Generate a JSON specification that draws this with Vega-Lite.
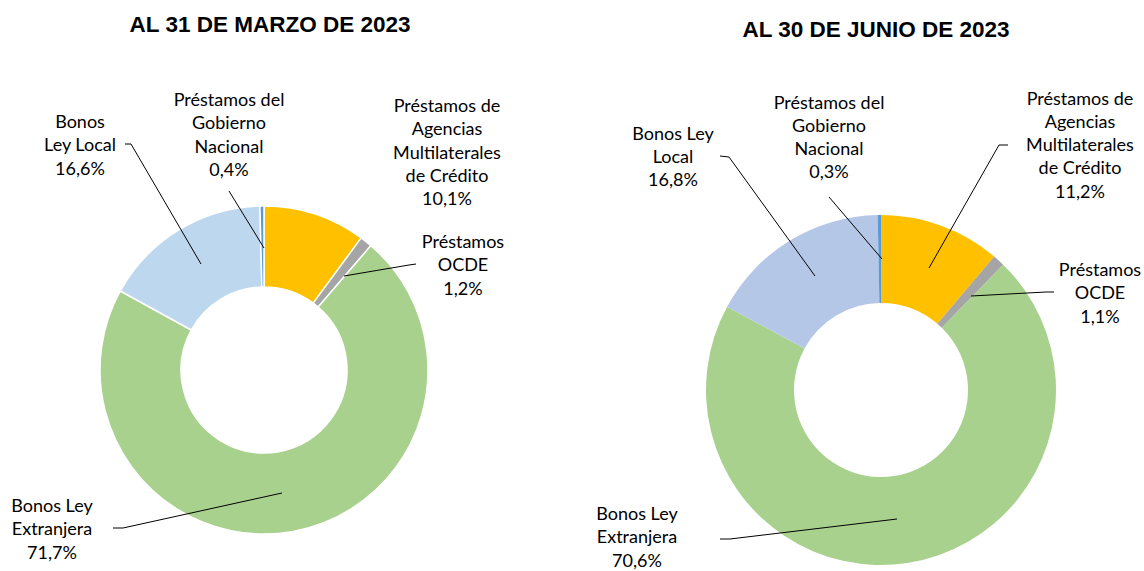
{
  "$schema": "https://vega.github.io/schema/vega-lite/v6.json",
  "width": 1144,
  "height": 571,
  "autosize": {"type": "none"},
  "padding": 0,
  "background": "white",
  "config": {"view": {"stroke": null}},
  "datasets": {
    "marzo": [
      {"cat": "Préstamos de Agencias Multilaterales de Crédito", "pct": 10.1, "ord": 1},
      {"cat": "Préstamos OCDE", "pct": 1.2, "ord": 2},
      {"cat": "Bonos Ley Extranjera", "pct": 71.7, "ord": 3},
      {"cat": "Bonos Ley Local", "pct": 16.6, "ord": 4},
      {"cat": "Préstamos del Gobierno Nacional", "pct": 0.4, "ord": 5}
    ],
    "junio": [
      {"cat": "Préstamos de Agencias Multilaterales de Crédito", "pct": 11.2, "ord": 1},
      {"cat": "Préstamos OCDE", "pct": 1.1, "ord": 2},
      {"cat": "Bonos Ley Extranjera", "pct": 70.6, "ord": 3},
      {"cat": "Bonos Ley Local", "pct": 16.8, "ord": 4},
      {"cat": "Préstamos del Gobierno Nacional", "pct": 0.3, "ord": 5}
    ],
    "labels": [
      {"label": "Bonos\nLey Local\n16,6%", "x": 80, "y": 123},
      {"label": "Préstamos del\nGobierno\nNacional\n0,4%", "x": 229, "y": 101},
      {"label": "Préstamos de\nAgencias\nMultilaterales\nde Crédito\n10,1%", "x": 447, "y": 107},
      {"label": "Préstamos\nOCDE\n1,2%", "x": 463, "y": 243},
      {"label": "Bonos Ley\nExtranjera\n71,7%", "x": 52, "y": 507},
      {"label": "Bonos Ley\nLocal\n16,8%", "x": 673, "y": 134.5},
      {"label": "Préstamos del\nGobierno\nNacional\n0,3%", "x": 829, "y": 103.5},
      {"label": "Préstamos de\nAgencias\nMultilaterales\nde Crédito\n11,2%", "x": 1080, "y": 99.5},
      {"label": "Préstamos\nOCDE\n1,1%", "x": 1100, "y": 271},
      {"label": "Bonos Ley\nExtranjera\n70,6%", "x": 637, "y": 515}
    ],
    "titles": [
      {"t": "AL 31 DE MARZO DE 2023", "x": 270, "y": 25},
      {"t": "AL 30 DE JUNIO DE 2023", "x": 876, "y": 30}
    ],
    "leaders": [
      {"id": "m_local", "seq": 1, "x": 125, "y": 144},
      {"id": "m_local", "seq": 2, "x": 131, "y": 144},
      {"id": "m_local", "seq": 3, "x": 201, "y": 264},
      {"id": "m_gob", "seq": 1, "x": 229, "y": 191},
      {"id": "m_gob", "seq": 2, "x": 264, "y": 248},
      {"id": "m_ocde", "seq": 1, "x": 416, "y": 264},
      {"id": "m_ocde", "seq": 2, "x": 409, "y": 265},
      {"id": "m_ocde", "seq": 3, "x": 344, "y": 276},
      {"id": "m_ext", "seq": 1, "x": 113, "y": 528},
      {"id": "m_ext", "seq": 2, "x": 123, "y": 528},
      {"id": "m_ext", "seq": 3, "x": 282, "y": 493},
      {"id": "j_local", "seq": 1, "x": 720, "y": 156},
      {"id": "j_local", "seq": 2, "x": 729, "y": 157},
      {"id": "j_local", "seq": 3, "x": 815, "y": 276},
      {"id": "j_gob", "seq": 1, "x": 829, "y": 197},
      {"id": "j_gob", "seq": 2, "x": 882, "y": 259},
      {"id": "j_multi", "seq": 1, "x": 1008, "y": 145},
      {"id": "j_multi", "seq": 2, "x": 999, "y": 145},
      {"id": "j_multi", "seq": 3, "x": 929, "y": 268},
      {"id": "j_ocde", "seq": 1, "x": 1054, "y": 292},
      {"id": "j_ocde", "seq": 2, "x": 1046, "y": 292},
      {"id": "j_ocde", "seq": 3, "x": 971, "y": 296},
      {"id": "j_ext", "seq": 1, "x": 720, "y": 539},
      {"id": "j_ext", "seq": 2, "x": 730, "y": 539},
      {"id": "j_ext", "seq": 3, "x": 897, "y": 519}
    ]
  },
  "layer": [
    {
      "data": {"name": "marzo"},
      "mark": {"type": "arc", "outerRadius": 164, "innerRadius": 83, "stroke": "white", "strokeWidth": 1.5},
      "encoding": {
        "x": {"datum": 264, "type": "quantitative", "scale": {"domain": [0, 1144], "nice": false, "zero": false}, "axis": null},
        "y": {"datum": 370, "type": "quantitative", "scale": {"domain": [571, 0], "nice": false, "zero": false}, "axis": null},
        "theta": {"field": "pct", "type": "quantitative", "stack": true},
        "order": {"field": "ord", "type": "quantitative"},
        "color": {
          "field": "cat", "type": "nominal", "legend": null,
          "scale": {
            "domain": ["Préstamos de Agencias Multilaterales de Crédito", "Préstamos OCDE", "Bonos Ley Extranjera", "Bonos Ley Local", "Préstamos del Gobierno Nacional"],
            "range": ["#FFC000", "#A5A5A5", "#A9D18E", "#BDD7EE", "#5B9BD5"]
          }
        }
      }
    },
    {
      "data": {"name": "junio"},
      "mark": {"type": "arc", "outerRadius": 175, "innerRadius": 87},
      "encoding": {
        "x": {"datum": 881, "type": "quantitative", "scale": {"domain": [0, 1144], "nice": false, "zero": false}, "axis": null},
        "y": {"datum": 390, "type": "quantitative", "scale": {"domain": [571, 0], "nice": false, "zero": false}, "axis": null},
        "theta": {"field": "pct", "type": "quantitative", "stack": true},
        "order": {"field": "ord", "type": "quantitative"},
        "color": {
          "field": "cat", "type": "nominal", "legend": null,
          "scale": {
            "domain": ["Préstamos de Agencias Multilaterales de Crédito", "Préstamos OCDE", "Bonos Ley Extranjera", "Bonos Ley Local", "Préstamos del Gobierno Nacional"],
            "range": ["#FFC000", "#A5A5A5", "#A9D18E", "#B4C7E7", "#5B9BD5"]
          }
        }
      }
    },
    {
      "data": {"name": "leaders"},
      "mark": {"type": "line", "color": "black", "strokeWidth": 1},
      "encoding": {
        "x": {"field": "x", "type": "quantitative", "scale": {"domain": [0, 1144], "nice": false, "zero": false}, "axis": null},
        "y": {"field": "y", "type": "quantitative", "scale": {"domain": [571, 0], "nice": false, "zero": false}, "axis": null},
        "detail": {"field": "id", "type": "nominal"},
        "order": {"field": "seq", "type": "quantitative"}
      }
    },
    {
      "data": {"name": "labels"},
      "mark": {"type": "text", "font": "Lato", "fontSize": 18, "lineHeight": 23.3, "lineBreak": "\n", "align": "center", "baseline": "middle", "color": "#000000"},
      "encoding": {
        "x": {"field": "x", "type": "quantitative", "scale": {"domain": [0, 1144], "nice": false, "zero": false}, "axis": null},
        "y": {"field": "y", "type": "quantitative", "scale": {"domain": [571, 0], "nice": false, "zero": false}, "axis": null},
        "text": {"field": "label", "type": "nominal"}
      }
    },
    {
      "data": {"name": "titles"},
      "mark": {"type": "text", "font": "Liberation Sans", "fontWeight": "bold", "fontSize": 22.5, "align": "center", "baseline": "middle", "color": "#000000"},
      "encoding": {
        "x": {"field": "x", "type": "quantitative", "scale": {"domain": [0, 1144], "nice": false, "zero": false}, "axis": null},
        "y": {"field": "y", "type": "quantitative", "scale": {"domain": [571, 0], "nice": false, "zero": false}, "axis": null},
        "text": {"field": "t", "type": "nominal"}
      }
    }
  ],
  "resolve": {"scale": {"theta": "independent", "color": "independent"}}
}
